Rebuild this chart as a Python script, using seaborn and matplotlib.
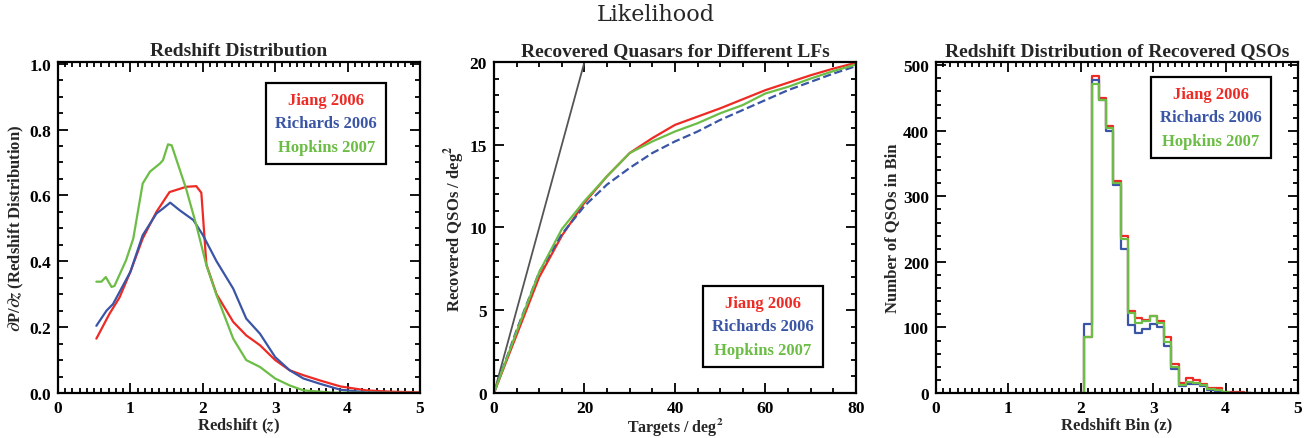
import numpy as np
import pandas as pd
import seaborn as sns
import matplotlib.pyplot as plt
from matplotlib.ticker import MultipleLocator, FormatStrFormatter

# ---- panel 1: redshift distribution dP/dz
z_jiang = [0.53, 0.71, 0.85, 1.0, 1.17, 1.36, 1.54, 1.77, 1.91, 1.98, 2.05, 2.19, 2.42, 2.6, 2.79, 3.0, 3.2, 3.39, 3.62, 3.9, 4.26, 4.6, 5.0]
p_jiang = [0.165, 0.24, 0.29, 0.368, 0.469, 0.55, 0.61, 0.626, 0.628, 0.608, 0.39, 0.30, 0.216, 0.175, 0.145, 0.10, 0.069, 0.054, 0.038, 0.02, 0.008, 0.004, 0.002]
z_rich = [0.53, 0.67, 0.76, 1.0, 1.17, 1.36, 1.45, 1.55, 1.68, 1.87, 2.0, 2.19, 2.42, 2.6, 2.79, 3.0, 3.2, 3.39, 3.62, 3.9, 4.26, 4.6, 5.0]
p_rich = [0.204, 0.25, 0.27, 0.368, 0.479, 0.545, 0.56, 0.578, 0.555, 0.525, 0.48, 0.40, 0.317, 0.226, 0.18, 0.109, 0.069, 0.044, 0.028, 0.01, 0.002, 0.0, 0.0]
z_hop = [0.53, 0.6, 0.66, 0.74, 0.78, 0.94, 1.04, 1.17, 1.27, 1.41, 1.45, 1.52, 1.57, 1.77, 1.91, 2.05, 2.19, 2.42, 2.6, 2.79, 3.0, 3.2, 3.39, 3.8, 5.0]
p_hop = [0.338, 0.338, 0.352, 0.322, 0.325, 0.403, 0.469, 0.636, 0.672, 0.697, 0.707, 0.755, 0.752, 0.62, 0.51, 0.388, 0.297, 0.165, 0.10, 0.079, 0.044, 0.023, 0.008, 0.001, 0.0]

# ---- panel 2: recovered quasars vs targets
targets = [0, 5, 10, 15, 20, 25, 30, 35, 40, 45, 50, 55, 60, 65, 70, 75, 80]
rec_jiang = [0, 3.5, 7.0, 9.5, 11.5, 13.1, 14.5, 15.4, 16.2, 16.7, 17.2, 17.75, 18.3, 18.75, 19.2, 19.6, 19.95]
rec_rich = [0, 3.8, 7.3, 9.6, 11.3, 12.6, 13.6, 14.5, 15.2, 15.8, 16.5, 17.1, 17.7, 18.3, 18.8, 19.3, 19.75]
rec_hop = [0, 3.7, 7.3, 9.9, 11.6, 13.1, 14.5, 15.2, 15.8, 16.3, 16.9, 17.4, 18.1, 18.5, 19.0, 19.45, 19.85]
one_to_one = [0, 20]

# ---- panel 3: histogram of recovered QSO redshifts (bins of 0.1, empty bins at both ends)
bin_edges = [round(1.95 + 0.1 * i, 2) for i in range(25)]
n_jiang = [0, 86, 483, 450, 408, 323, 240, 125, 114, 112, 118, 110, 85, 44, 16, 23, 20, 14, 8, 7, 2, 1, 1, 0]
n_rich = [0, 106, 478, 447, 400, 318, 220, 103, 92, 98, 106, 100, 72, 37, 10, 14, 13, 10, 4, 3, 0, 0, 0, 0]
n_hop = [0, 86, 472, 447, 405, 320, 235, 122, 107, 110, 117, 107, 78, 40, 12, 17, 16, 12, 6, 5, 1, 0, 0, 0]

names = ['Jiang 2006', 'Richards 2006', 'Hopkins 2007']
colors = ['#ee2a24', '#3a55a5', '#6cbd45']

sns.set_theme(style='ticks')
plt.rcParams['font.family'] = ['Liberation Serif', 'DejaVu Serif']
plt.rcParams['mathtext.fontset'] = 'stix'
plt.rcParams['font.weight'] = 'bold'
plt.rcParams['axes.labelweight'] = 'bold'
plt.rcParams['axes.titleweight'] = 'bold'

fig = plt.figure(figsize=(13.12, 4.39), dpi=100)
ax1 = fig.add_axes([0.0442, 0.1025, 0.2759, 0.754])
ax2 = fig.add_axes([0.3765, 0.1025, 0.2759, 0.754])
ax3 = fig.add_axes([0.7134, 0.1025, 0.2759, 0.754])

# panel 1
for zz, pp, c, n in zip([z_jiang, z_rich, z_hop], [p_jiang, p_rich, p_hop], colors, names):
    sns.lineplot(x=zz, y=pp, ax=ax1, color=c, lw=1.6, label=n, sort=False)
ax1.set_xlim(0, 5)
ax1.set_ylim(0, 1.005)
ax1.xaxis.set_major_locator(MultipleLocator(1))
ax1.xaxis.set_minor_locator(MultipleLocator(0.1))
ax1.yaxis.set_major_locator(MultipleLocator(0.2))
ax1.yaxis.set_minor_locator(MultipleLocator(0.05))
ax1.yaxis.set_major_formatter(FormatStrFormatter('%.1f'))
ax1.set_title('Redshift Distribution', fontsize=14, pad=5)
ax1.set_xlabel(r'Redshift ($z$)', fontsize=12, labelpad=0)
ax1.set_ylabel(r'$\partial$P/$\partial z$ (Redshift Distribution)', fontsize=12, labelpad=2)

# panel 2
sns.lineplot(x=one_to_one, y=one_to_one, ax=ax2, color='#555555', lw=1.3)
for yy, c, n, ls in zip([rec_jiang, rec_rich, rec_hop], colors, names, ['-', '--', '-']):
    sns.lineplot(x=targets, y=yy, ax=ax2, color=c, lw=1.6, ls=ls, label=n)
ax2.set_xlim(0, 80)
ax2.set_ylim(0, 20)
ax2.xaxis.set_major_locator(MultipleLocator(20))
ax2.xaxis.set_minor_locator(MultipleLocator(5))
ax2.yaxis.set_major_locator(MultipleLocator(5))
ax2.yaxis.set_minor_locator(MultipleLocator(1))
ax2.set_title('Recovered Quasars for Different LFs', fontsize=14, pad=5)
ax2.set_xlabel(r'Targets / deg$^\mathbf{2}$', fontsize=11.5, labelpad=0)
ax2.set_ylabel(r'Recovered QSOs / deg$^\mathbf{2}$', fontsize=12, labelpad=2)

# panel 3
centers = [(a + b) / 2 for a, b in zip(bin_edges[:-1], bin_edges[1:])]
for nn, c, n in zip([n_jiang, n_rich, n_hop], colors, names):
    df = pd.DataFrame({'z': centers, 'n': nn})
    sns.histplot(data=df, x='z', weights='n', bins=bin_edges, element='step', fill=False,
                 color=c, lw=1.6, ax=ax3, label=n)
ax3.set_xlim(0, 5)
ax3.set_ylim(0, 505)
ax3.xaxis.set_major_locator(MultipleLocator(1))
ax3.xaxis.set_minor_locator(MultipleLocator(0.1))
ax3.yaxis.set_major_locator(MultipleLocator(100))
ax3.yaxis.set_minor_locator(MultipleLocator(20))
ax3.set_title('Redshift Distribution of Recovered QSOs', fontsize=14, pad=5)
ax3.set_xlabel('Redshift Bin (z)', fontsize=12, labelpad=0)
ax3.set_ylabel('Number of QSOs in Bin', fontsize=12, labelpad=2)

for ax, loc in zip([ax1, ax2, ax3], [(0.575, 0.692), (0.577, 0.079), (0.594, 0.71)]):
    for s in ax.spines.values():
        s.set_linewidth(1.6)
        s.set_color('black')
    ax.tick_params(which='both', direction='in', top=True, right=True, width=1.3,
                   labelsize=12.5, colors='black', pad=5)
    ax.tick_params(which='major', length=7)
    ax.tick_params(which='minor', length=3.5)
    for lab in ax.get_xticklabels() + ax.get_yticklabels():
        lab.set_fontweight('bold')
    leg = ax.legend(loc='lower left', bbox_to_anchor=loc, borderaxespad=0,
                    handlelength=0, handletextpad=0, fancybox=False, frameon=True,
                    fontsize=12, labelspacing=0.45, borderpad=0.55, labelcolor=colors)
    for h in leg.legend_handles:
        h.set_visible(False)
    for col in leg._legend_handle_box.get_children():
        col.align = 'center'
    for t in leg.get_texts():
        t.set_fontweight('bold')
    leg.get_frame().set_edgecolor('black')
    leg.get_frame().set_linewidth(1.6)
    leg.get_frame().set_alpha(1)

fig.text(0.5, 0.965, 'Likelihood', ha='center', va='center', fontsize=16,
         fontweight='normal', family='DejaVu Serif')

fig.savefig('out.png', dpi=100, facecolor='white')
